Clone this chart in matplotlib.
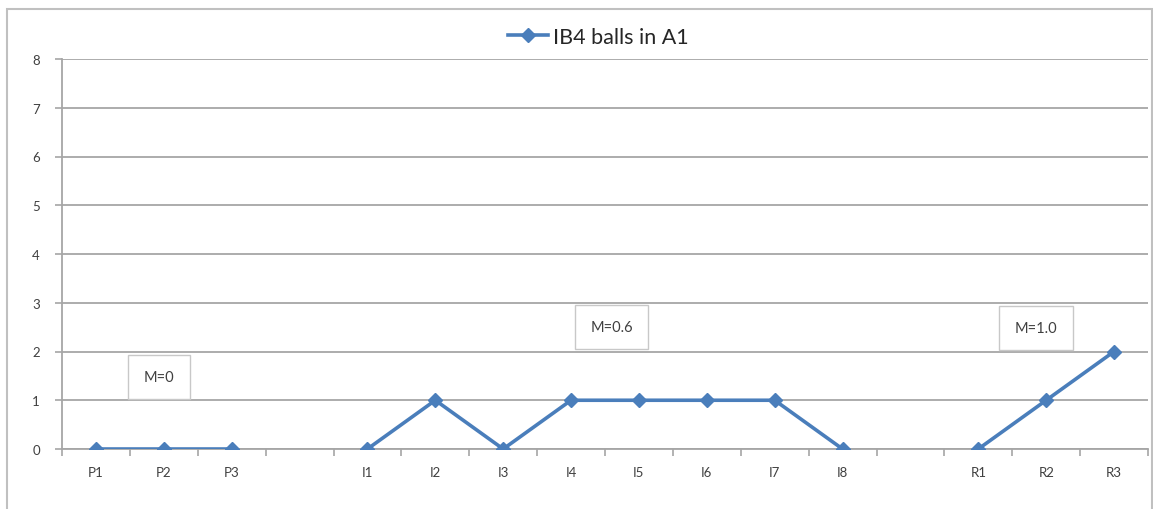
import numpy as np
import matplotlib
matplotlib.use("Agg")
from matplotlib import pyplot as plt
from matplotlib.patches import Rectangle

# ---- Data ----
categories = ["P1", "P2", "P3", "", "I1", "I2", "I3", "I4", "I5", "I6", "I7", "I8",
              "", "R1", "R2", "R3"]
ib4_balls = [0, 0, 0, np.nan, 0, 1, 0, 1, 1, 1, 1, 0, np.nan, 0, 1, 2]
series_name = "IB4 balls in A1"
mean_labels = ["M=0", "M=0.6", "M=1.0"]
mean_pos = [(0.93, 1.48), (7.60, 2.50), (13.85, 2.48)]

# ---- Style ----
W, H = 1153, 510
BLUE = "#4A7EBB"
GRID = "#A6A6A6"
TEXT = "#404040"
plt.rcParams["font.family"] = ["Lato", "DejaVu Sans"]

fig = plt.figure(figsize=(W / 100, H / 100), dpi=100)
ax = fig.add_axes([62 / W, 1 - 450 / H, (1148 - 62) / W, (450 - 60) / H])

x = np.arange(len(categories))
line, = ax.plot(x, ib4_balls, color=BLUE, lw=2.6, marker="D", ms=7,
                markeredgecolor=BLUE, label=series_name, zorder=3)

ax.set_xlim(-0.5, len(categories) - 0.5)
ax.set_ylim(0, 8)
ax.set_yticks(range(0, 9))
ax.yaxis.grid(True, color=GRID, lw=1.3)
ax.set_axisbelow(True)

# category labels centred, tick marks at boundaries
ax.set_xticks(x)
ax.set_xticklabels(categories)
ax.tick_params(axis="x", length=0, pad=12, labelsize=9.5, labelcolor=TEXT)
ax.set_xticks(np.arange(-0.5, len(categories)), minor=True)
ax.tick_params(axis="x", which="minor", length=5, color=GRID, width=1.2)
ax.tick_params(axis="y", length=5, color=GRID, width=1.2, labelsize=9.5,
               labelcolor=TEXT, pad=11)

for s in ["top", "right"]:
    ax.spines[s].set_visible(False)
ax.spines["left"].set_color(GRID)
ax.spines["bottom"].set_color(GRID)
ax.spines["left"].set_linewidth(1.3)
ax.spines["bottom"].set_linewidth(1.3)

# mean annotations
for lbl, (mx, my) in zip(mean_labels, mean_pos):
    ax.text(mx, my, lbl, ha="center", va="center", fontsize=10.5, color=TEXT,
            bbox=dict(boxstyle="square,pad=1.05", fc="white", ec="#C8C8C8", lw=1))

# legend at top centre
fig.legend(handles=[line], loc="center", bbox_to_anchor=(598 / W, 1 - 38 / H),
           frameon=False, fontsize=15.5, handlelength=1.9, handletextpad=0.2,
           labelcolor="#262626")

# outer chart frame
fig.patches.append(Rectangle((7 / W, -0.05), (1152 - 7) / W, 1 - 10 / H + 0.05,
                             transform=fig.transFigure, fill=False,
                             ec="#C0C0C0", lw=1.5))

fig.savefig("out.png", dpi=100)
